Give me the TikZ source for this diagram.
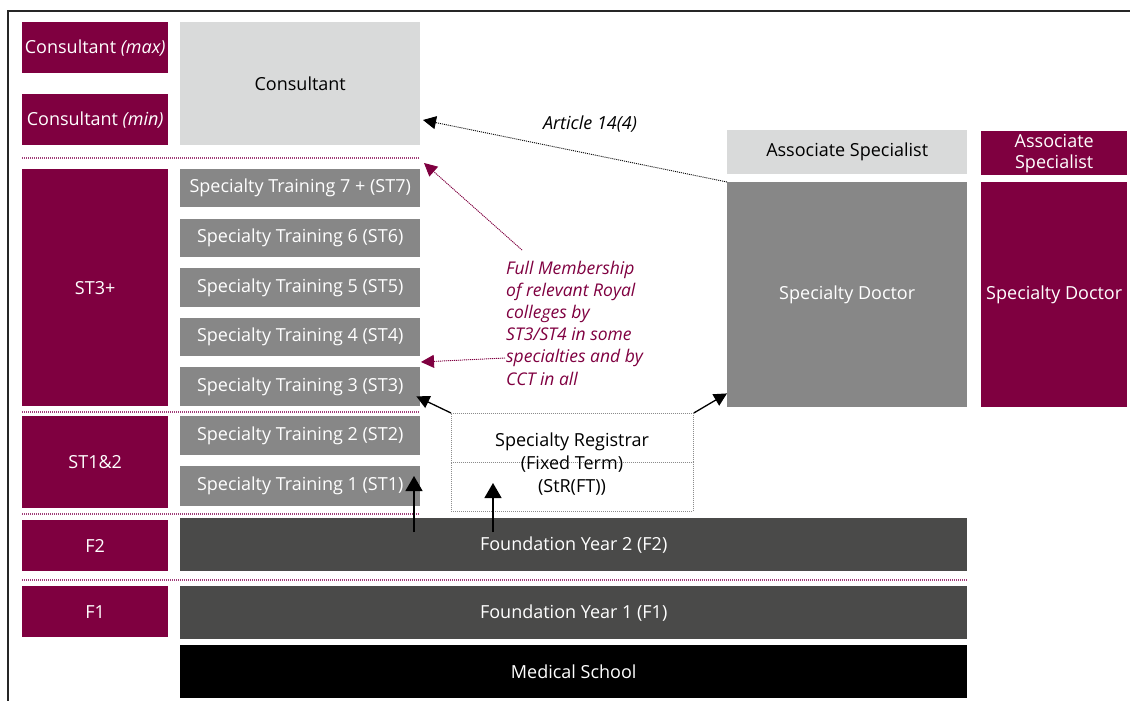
\documentclass[tikz,border=0pt]{standalone}
\usepackage{fontspec}
\setmainfont{Open Sans}
\usetikzlibrary{arrows.meta}
\definecolor{purp}{RGB}{127,0,64}
\definecolor{lgray}{RGB}{217,218,218}
\definecolor{mgray}{RGB}{135,135,135}
\definecolor{dgray}{RGB}{74,74,73}
\definecolor{sepc}{RGB}{160,60,120}
\tikzset{
  box/.style={anchor=north west, inner sep=0pt, align=center, font=\fontsize{18}{21}\selectfont},
  pbox/.style={box, fill=purp, text=white},
  lbox/.style={box, fill=lgray, text=black},
  mbox/.style={box, fill=mgray, text=white},
  dbox/.style={box, fill=dgray, text=white},
  kbox/.style={box, fill=black, text=white},
  sep/.style={draw=sepc, line width=1.2pt, dash pattern=on 1pt off 1pt},
  solidarr/.style={draw=black, line width=1.4pt, -{Triangle[width=17pt,length=15pt]}},
  diagarr/.style={draw=black, line width=1.3pt, -{Triangle[width=13pt,length=13pt]}},
  dotarr/.style={line width=0.9pt, dash pattern=on 1pt off 1pt, -{Triangle[width=13pt,length=13pt]}},
}
\begin{document}
\begin{tikzpicture}[x=1pt,y=-1pt]
\useasboundingbox (0,0) rectangle (1130,701);
% frame
\draw[line width=1.5pt, black!85] (8,701) -- (8,11) -- (1130,11);
% separators
\draw[sep] (22,158) -- (420,158);
\draw[sep] (22,412) -- (420,412);
\draw[sep] (22,514) -- (420,514);
\draw[sep] (22,580) -- (967,580);
% left labels
\node[pbox, minimum width=146pt, minimum height=51pt] (cmax) at (22,22) {Consultant \textit{(max)}};
\node[pbox, minimum width=146pt, minimum height=51pt] (cmin) at (22,94) {Consultant \textit{(min)}};
\node[pbox, minimum width=146pt, minimum height=237pt] (st3p) at (22,169) {ST3+};
\node[pbox, minimum width=146pt, minimum height=92pt] (st12) at (22,416) {ST1\&2};
\node[pbox, minimum width=146pt, minimum height=51pt] (f2l) at (22,520) {F2};
\node[pbox, minimum width=146pt, minimum height=51pt] (f1l) at (22,586) {F1};
% middle column
\node[lbox, minimum width=240pt, minimum height=123pt] (cons) at (180,22) {Consultant};
\node[mbox, minimum width=240pt, minimum height=38pt] (st7) at (180,169) {Specialty Training 7 + (ST7)};
\node[mbox, minimum width=240pt, minimum height=38pt] (st6) at (180,219) {Specialty Training 6 (ST6)};
\node[mbox, minimum width=240pt, minimum height=39pt] (st5) at (180,268) {Specialty Training 5 (ST5)};
\node[mbox, minimum width=240pt, minimum height=38pt] (st4) at (180,318) {Specialty Training 4 (ST4)};
\node[mbox, minimum width=240pt, minimum height=39pt] (st3) at (180,367) {Specialty Training 3 (ST3)};
\node[mbox, minimum width=240pt, minimum height=39pt] (st2) at (180,416) {Specialty Training 2 (ST2)};
\node[mbox, minimum width=240pt, minimum height=40pt] (st1) at (180,466) {Specialty Training 1 (ST1)};
% foundation
\node[dbox, minimum width=787pt, minimum height=53pt] (fy2) at (180,518) {Foundation Year 2 (F2)};
\node[dbox, minimum width=787pt, minimum height=53pt] (fy1) at (180,586) {Foundation Year 1 (F1)};
\node[kbox, minimum width=787pt, minimum height=53pt] (med) at (180,645) {Medical School};
% right
\node[lbox, minimum width=240pt, minimum height=44pt] (assoc) at (727,130) {Associate Specialist};
\node[mbox, minimum width=240pt, minimum height=225pt] (sdoc) at (727,182) {Specialty Doctor};
\node[pbox, minimum width=146pt, minimum height=44pt, font=\fontsize{18}{21}\selectfont] (assocl) at (981,131) {Associate\\Specialist};
\node[pbox, minimum width=146pt, minimum height=225pt] (sdocl) at (981,182) {Specialty Doctor};
% StR box
\node[draw=black!45, line width=0.8pt, dash pattern=on 1pt off 1pt, anchor=north west, minimum width=242pt, minimum height=49pt, inner sep=0pt] (strtop) at (451,413) {};
\node[draw=black!45, line width=0.8pt, dash pattern=on 1pt off 1pt, anchor=north west, minimum width=242pt, minimum height=49pt, inner sep=0pt] (strbot) at (451,462) {};
\node[align=center, inner sep=0pt, font=\fontsize{18}{23}\selectfont] (strtext) at (572,464) {Specialty Registrar\\(Fixed Term)\\(StR(FT))};
% arrows
\draw[diagarr] (strtop.north west) -- ([xshift=-4pt,yshift=10pt]st3.south east);
\draw[diagarr] (strtop.north east) -- ([yshift=14pt]sdoc.south west);
\coordinate (a1) at (414,532);
\coordinate (a2) at (493,532);
\draw[solidarr] (a1) -- (414,476);
\draw[solidarr] (a2) -- (493,483);
\coordinate (consarr) at (423,120);
\draw[dotarr, draw=black] (sdoc.north west) -- (consarr);
\node[font=\fontsize{18}{20}\selectfont\itshape, inner sep=0pt] (art) at (590,124) {Article 14(4)};
% membership note
\node[anchor=west, align=left, text=purp, inner sep=0pt, font=\fontsize{17.5}{22.2}\selectfont\itshape] (note) at (506,323) {Full Membership\\of relevant Royal\\colleges by\\ST3/ST4 in some\\specialties and by\\CCT in all};
\coordinate (n1) at (522,250);
\coordinate (n2) at (505,358);
\coordinate (t1) at (424,163);
\coordinate (t2) at (421,362);
\draw[dotarr, draw=purp, fill=purp] (n1) -- (t1);
\draw[dotarr, draw=purp, fill=purp] (n2) -- (t2);
\end{tikzpicture}
\end{document}
